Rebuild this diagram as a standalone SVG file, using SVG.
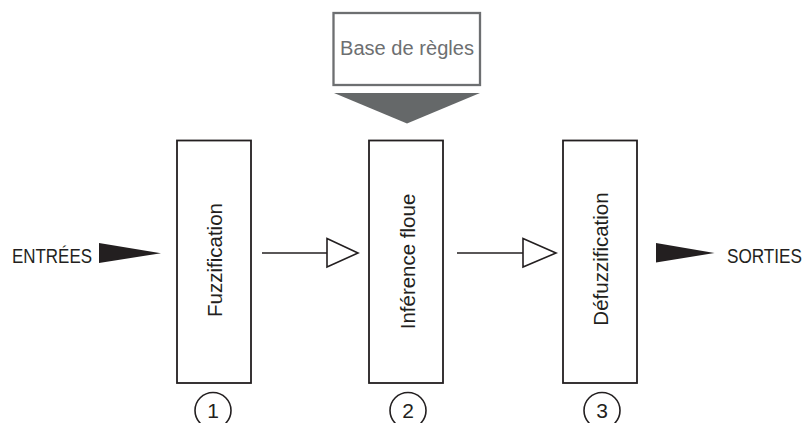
<svg xmlns="http://www.w3.org/2000/svg" width="804" height="423" viewBox="0 0 804 423">
<style>
  .box { fill: #ffffff; stroke: #231f20; stroke-width: 1.8; }
  .lbl { font-family: "Liberation Sans", Arial, sans-serif; font-size: 20.5px; fill: #231f20; text-anchor: middle; }
  .io { font-family: "Liberation Sans", Arial, sans-serif; font-size: 20.5px; fill: #231f20; }
  .num { font-family: "Liberation Sans", Arial, sans-serif; font-size: 21px; fill: #231f20; text-anchor: middle; }
  .circ { fill: none; stroke: #231f20; stroke-width: 1.6; }
  .conn { stroke: #231f20; stroke-width: 1.6; fill: none; }
  .head { fill: #ffffff; stroke: #231f20; stroke-width: 1.6; }
  .solid { fill: #231f20; }
</style>
<rect width="804" height="423" fill="#ffffff"/>

<g id="base-regles">
  <rect x="333.5" y="13" width="146.5" height="72" fill="#ffffff" stroke="#6d6f71" stroke-width="2.3"/>
  <text x="407" y="55" font-family="'Liberation Sans', Arial, sans-serif" font-size="20px" fill="#6d6f71" text-anchor="middle" textLength="134" lengthAdjust="spacingAndGlyphs">Base de règles</text>
  <polygon points="334,93 480,93 407,123.5" fill="#656869"/>
</g>

<g id="entrees">
  <text class="io" x="12" y="262.5" textLength="80" lengthAdjust="spacingAndGlyphs">ENTRÉES</text>
</g>

<g id="fuzzification">
  <rect class="box" x="177" y="140.5" width="74" height="242.5"/>
  <text class="lbl" transform="translate(221.5,260) rotate(-90)">Fuzzification</text>
  <circle class="circ" cx="213" cy="410.5" r="18"/>
  <text class="num" x="213" y="417.5">1</text>
</g>

<g id="inference">
  <rect class="box" x="369" y="140.5" width="74" height="242.5"/>
  <text class="lbl" transform="translate(414.5,261.5) rotate(-90)">Inférence floue</text>
  <circle class="circ" cx="408" cy="410.5" r="18"/>
  <text class="num" x="408" y="417.5">2</text>
</g>

<g id="defuzzification">
  <rect class="box" x="563" y="140.5" width="74" height="242.5"/>
  <text class="lbl" transform="translate(608,259) rotate(-90)">Défuzzification</text>
  <circle class="circ" cx="602" cy="410.5" r="18"/>
  <text class="num" x="602" y="417.5">3</text>
</g>

<g id="sorties">
  <text class="io" x="727" y="262.5" textLength="75" lengthAdjust="spacingAndGlyphs">SORTIES</text>
</g>

<g id="connectors">
  <polygon class="solid" points="99,243 161,253.2 99,263"/>
  <line class="conn" x1="262" y1="253" x2="327" y2="253"/>
  <polygon class="head" points="327,238.5 358,253 327,267"/>
  <line class="conn" x1="457" y1="253" x2="523" y2="253"/>
  <polygon class="head" points="523,238.5 556,253 523,267"/>
  <polygon class="solid" points="656,243 714.5,253 656,262.5"/>
</g>
</svg>
